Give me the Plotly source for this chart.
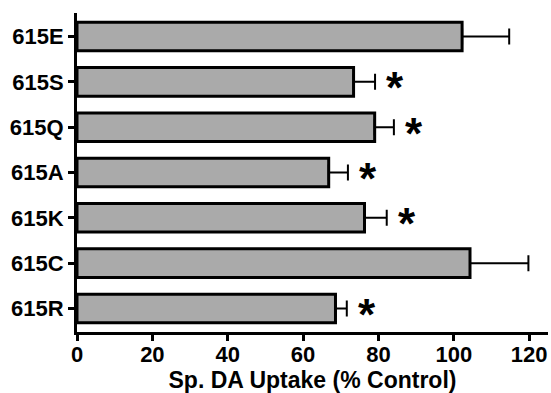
import plotly.graph_objects as go

categories = ["615E", "615S", "615Q", "615A", "615K", "615C", "615R"]
values = [102.2, 73.4, 79.0, 66.8, 76.3, 104.3, 68.6]
errors = [12.5, 5.7, 5.1, 5.1, 5.9, 15.5, 3.0]
significant = [False, True, True, True, True, False, True]
x_ticks = [0, 20, 40, 60, 80, 100, 120]

FONT = "Liberation Sans, Arial, sans-serif"

fig = go.Figure()
fig.add_trace(go.Bar(
    y=categories,
    x=values,
    orientation="h",
    width=0.63,
    marker=dict(color="#aaaaaa", line=dict(color="black", width=3)),
    error_x=dict(type="data", array=errors, arrayminus=[0] * len(errors),
                 symmetric=False, color="black", thickness=2, width=8),
    hoverinfo="skip",
))

for cat, v, e, sig in zip(categories, values, errors, significant):
    if sig:
        fig.add_annotation(
            x=v + e, y=cat, text="<b>*</b>", showarrow=False,
            xanchor="left", yanchor="middle", xshift=9, yshift=-6,
            font=dict(family=FONT, size=44, color="black"),
        )

fig.update_layout(
    width=551, height=393,
    margin=dict(l=77, r=3, t=13, b=61),
    paper_bgcolor="white", plot_bgcolor="white",
    showlegend=False,
    font=dict(family=FONT, color="black"),
)
fig.update_xaxes(
    range=[0, 125], tickvals=x_ticks, ticktext=[str(t) for t in x_ticks],
    automargin=False,
    showgrid=False, zeroline=False,
    showline=True, linecolor="black", linewidth=3,
    ticks="outside", ticklen=6, tickwidth=3, tickcolor="black",
    ticklabelstandoff=-5,
    tickfont=dict(family=FONT, size=22, color="black", weight="bold"),
    title=dict(text="<b>Sp. DA Uptake (% Control)</b>", standoff=8,
               font=dict(family=FONT, size=23, color="black")),
)
fig.update_yaxes(
    categoryorder="array", categoryarray=categories[::-1],
    range=[-0.52, 6.52],
    automargin=False,
    showgrid=False, zeroline=False,
    showline=True, linecolor="black", linewidth=3,
    ticks="outside", ticklen=6, tickwidth=3, tickcolor="black",
    tickfont=dict(family=FONT, size=22, color="black", weight="bold"),
)

fig.write_html(
    "out.html",
    config={"displayModeBar": False},
    post_script="document.body.style.margin='0';document.body.style.padding='0';",
)
